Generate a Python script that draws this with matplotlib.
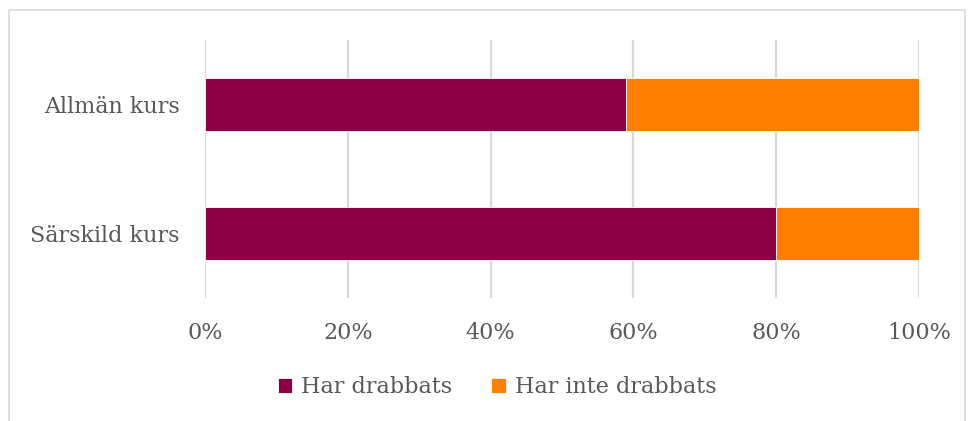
import matplotlib
matplotlib.use("Agg")
import matplotlib.pyplot as plt
from matplotlib.patches import Rectangle

categories = ["Särskild kurs", "Allmän kurs"]
har_drabbats = [0.80, 0.59]
har_inte_drabbats = [0.20, 0.41]
xticks = [0, 0.2, 0.4, 0.6, 0.8, 1.0]
xtick_labels = ["0%", "20%", "40%", "60%", "80%", "100%"]
series_names = ["Har drabbats", "Har inte drabbats"]
colors = ["#8E0045", "#FF8000"]

plt.rcParams['font.family'] = ['DejaVu Serif']
text_color = "#595959"
fs = 16

fig = plt.figure(figsize=(9.68, 4.21), dpi=100)
ax = fig.add_axes([205/968, 1-298/421, (919-205)/968, (298-40)/421])

y = list(range(len(categories)))
ax.barh(y, har_drabbats, height=0.41, color=colors[0], edgecolor="white", linewidth=0.6,
        label=series_names[0], zorder=3)
ax.barh(y, har_inte_drabbats, left=har_drabbats, height=0.41, color=colors[1],
        edgecolor="white", linewidth=0.6, label=series_names[1], zorder=3)

ax.set_xlim(0, 1)
ax.set_ylim(-0.5, 1.5)
ax.set_xticks(xticks)
ax.set_xticklabels(xtick_labels)
ax.set_yticks(y)
ax.set_yticklabels(categories)
ax.tick_params(axis='both', length=0, labelsize=fs, colors=text_color)
ax.tick_params(axis='x', pad=17)
ax.tick_params(axis='y', pad=18)
ax.grid(axis='x', color="#D9D9D9", linewidth=1.6, zorder=0)
for s in ax.spines.values():
    s.set_visible(False)

leg = fig.legend(loc="center", bbox_to_anchor=(497/968, 1-387/421), ncol=2, frameon=False,
                 fontsize=fs, handlelength=0.65, handleheight=0.65, handletextpad=0.4,
                 columnspacing=1.75)
for t in leg.get_texts():
    t.set_color(text_color)

fig.patches.append(Rectangle((9/968, -0.1), (965-9)/968, 1-10/421+0.1,
                             transform=fig.transFigure, fill=False,
                             edgecolor="#D9D9D9", linewidth=1.2))

fig.savefig("out.png", dpi=100)
